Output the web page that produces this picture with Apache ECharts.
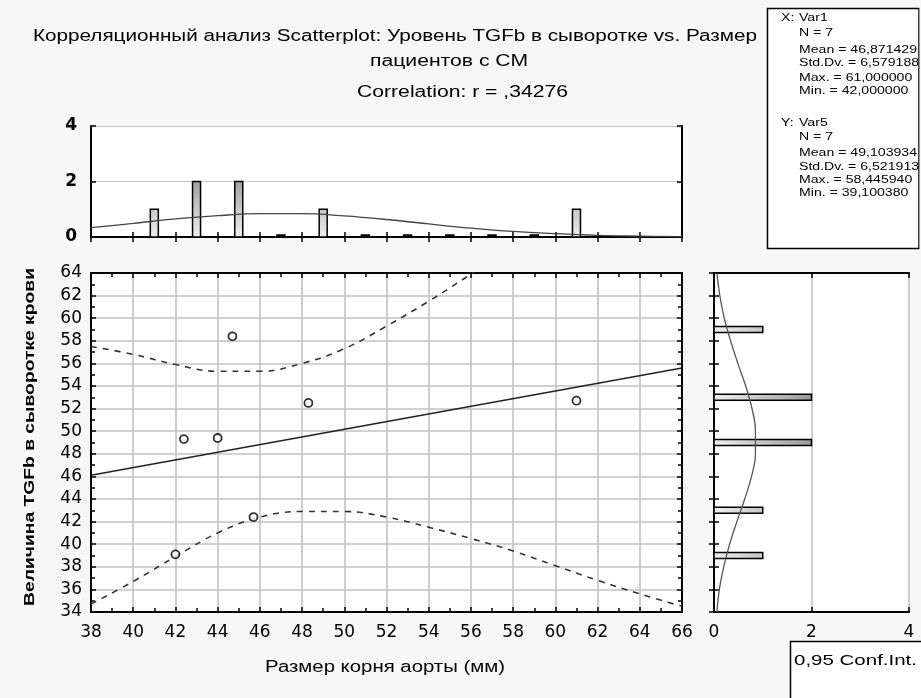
<!DOCTYPE html>
<html>
<head>
<meta charset="utf-8">
<script src="https://cdn.jsdelivr.net/npm/echarts@6/dist/echarts.min.js"></script>
<style>
html,body{margin:0;padding:0;background:#f7f7f7;}
#chart{width:921px;height:698px;}
</style>
</head>
<body>
<div id="chart"></div>
<script>
// ---------- data ----------
const aortaSize = [42.0, 42.4, 44.0, 44.7, 45.7, 48.3, 61.0];
const tgfbLevel = [39.1, 49.3, 49.4, 58.4, 42.4, 52.5, 52.7];

const fitX = [38, 66];
const fitY = [46.1, 55.6];

const bandX     = [38, 40, 42, 44, 46, 48, 50, 52, 54, 56, 58, 60, 62, 64, 66];
const bandUpper = [57.5, 56.8, 55.9, 55.3, 55.3, 56.0, 57.3, 59.3, 61.5, 63.9, 66.4];
const bandLower = [34.7, 36.7, 38.9, 41.0, 42.4, 42.9, 42.9, 42.4, 41.5, 40.5, 39.4, 38.1, 36.8, 35.6, 34.5];

const xHistBins   = [41, 43, 45, 47, 49, 51, 53, 55, 57, 59, 61];
const xHistCounts = [1, 2, 2, 0, 1, 0, 0, 0, 0, 0, 1];
const xCurveX = [38, 40, 42, 44, 46, 48, 50, 52, 54, 56, 58, 60, 62, 64, 66];
const xCurveV = [0.34, 0.49, 0.65, 0.77, 0.84, 0.84, 0.76, 0.63, 0.47, 0.32, 0.20, 0.12, 0.06, 0.03, 0.01];

const yHistBins   = [39, 43, 49, 53, 59];
const yHistCounts = [1, 1, 2, 2, 1];
const yCurveY = [34, 36, 38, 40, 42, 44, 46, 48, 50, 52, 54, 56, 58, 60, 62, 64];
const yCurveV = [0.06, 0.11, 0.20, 0.32, 0.47, 0.63, 0.77, 0.85, 0.85, 0.78, 0.65, 0.49, 0.34, 0.21, 0.12, 0.06];

const xTicks = {min: 38, max: 66, interval: 2};
const yTicks = {min: 34, max: 64, interval: 2};
const histTicks = {min: 0, max: 4, interval: 2};

const titleLine1 = 'Корреляционный анализ Scatterplot: Уровень TGFb в сыворотке vs. Размер';
const titleLine2 = 'пациентов с СМ';
const titleLine3 = 'Correlation: r = ,34276';
const xName = 'Размер корня аорты (мм)';
const yName = 'Величина TGFb в сыворотке крови';
const statsX = ['X:  Var1', 'N = 7', 'Mean = 46,871429', 'Std.Dv. = 6,579188', 'Max. = 61,000000', 'Min. = 42,000000'];
const statsY = ['Y:  Var5', 'N = 7', 'Mean = 49,103934', 'Std.Dv. = 6,521913', 'Max. = 58,445940', 'Min. = 39,100380'];
const confLabel = '0,95 Conf.Int.';

// ---------- helpers ----------
const mctx = document.createElement('canvas').getContext('2d');
const FAM = '"Liberation Sans", Arial, sans-serif';
function measure(t, size, weight) { mctx.font = (weight||'normal') + ' ' + size + 'px ' + FAM; return mctx.measureText(t).width; }
function fitText(t, x, y, size, target, opts) {
  opts = opts || {};
  const s = target / measure(t, size, opts.weight);
  return {
    type: 'text', x: x, y: y, scaleX: s, rotation: opts.rotation || 0, z: 50,
    style: { text: t, fontSize: size, fontFamily: FAM, fontWeight: opts.weight || 'normal', fill: '#000',
             align: opts.align || 'left', verticalAlign: 'middle' }
  };
}

const chart = echarts.init(document.getElementById('chart'));

const G = [
  {left: 91, top: 273, width: 591, height: 339},   // main
  {left: 91, top: 126, width: 591, height: 111},   // top histogram
  {left: 714, top: 273, width: 195, height: 339}   // right histogram
].map(g => Object.assign({show: true, backgroundColor: '#ffffff', borderWidth: 0, containLabel: false}, g));

const lineBlack = {show: true, lineStyle: {color: '#000', width: 2}};
const tickIn = {show: true, inside: true, length: 5, lineStyle: {color: '#000', width: 1.5}};
const minorIn = {show: true, splitNumber: 2, length: 4, lineStyle: {color: '#000', width: 1.5}};
const lab = {fontFamily: '"DejaVu Sans", sans-serif', fontSize: 17, color: '#000'};
const gridLine = {show: true, lineStyle: {color: '#c2c2c2', width: 1.6}};

function ax(base, extra) { return Object.assign({type: 'value', axisLine: lineBlack, axisTick: tickIn, splitLine: {show: false}, axisLabel: {show: false}}, base, extra); }

const xAxes = [
  ax(xTicks, {gridIndex: 0, position: 'bottom', axisLabel: Object.assign({show: true, margin: 12}, lab), minorTick: minorIn, splitLine: gridLine}),
  ax(xTicks, {gridIndex: 0, position: 'top', minorTick: minorIn}),
  ax(xTicks, {gridIndex: 1, position: 'bottom'}),
  ax(xTicks, {gridIndex: 1, position: 'top'}),
  ax(histTicks, {gridIndex: 2, position: 'bottom', axisLabel: Object.assign({show: true, margin: 12}, lab), splitLine: gridLine}),
  ax(histTicks, {gridIndex: 2, position: 'top'})
];
const yAxes = [
  ax(yTicks, {gridIndex: 0, position: 'left', axisLabel: Object.assign({show: true, margin: 9}, lab), minorTick: minorIn, splitLine: gridLine}),
  ax(yTicks, {gridIndex: 0, position: 'right', minorTick: minorIn}),
  ax(histTicks, {gridIndex: 1, position: 'left', axisLabel: Object.assign({show: true, margin: 14, fontWeight: 'bold'}, lab), splitLine: {show: true, lineStyle: {color: '#c8c8c8', width: 1.2}}}),
  ax(histTicks, {gridIndex: 1, position: 'right'}),
  ax(yTicks, {gridIndex: 2, position: 'left'}),
  ax(yTicks, {gridIndex: 2, position: 'right'})
];

const topGrad = new echarts.graphic.LinearGradient(0, 126, 0, 237, [
  {offset: 0, color: '#555'}, {offset: 1, color: '#eeeeee'}], true);
const rightGrad = new echarts.graphic.LinearGradient(714, 0, 909, 0, [
  {offset: 0, color: '#f0f0f0'}, {offset: 0.5, color: '#9a9a9a'}, {offset: 1, color: '#555'}], true);

const series = [
  {type: 'line', xAxisIndex: 0, yAxisIndex: 0, data: fitX.map((x, i) => [x, fitY[i]]), symbol: 'none',
   lineStyle: {color: '#222', width: 1.6}, z: 3, silent: true},
  {type: 'line', xAxisIndex: 0, yAxisIndex: 0, data: bandUpper.map((v, i) => [bandX[i], v]), symbol: 'none', smooth: 0.4,
   lineStyle: {color: '#333', width: 1.6, type: [6, 6]}, z: 3, silent: true},
  {type: 'line', xAxisIndex: 0, yAxisIndex: 0, data: bandLower.map((v, i) => [bandX[i], v]), symbol: 'none', smooth: 0.4,
   lineStyle: {color: '#333', width: 1.6, type: [6, 6]}, z: 3, silent: true},
  {type: 'scatter', xAxisIndex: 0, yAxisIndex: 0, data: aortaSize.map((x, i) => [x, tgfbLevel[i]]), symbol: 'circle', symbolSize: 8,
   itemStyle: {color: '#fff', borderColor: '#000', borderWidth: 1.8}, z: 5},
  {type: 'custom', xAxisIndex: 2, yAxisIndex: 2, data: xHistBins.map((b, i) => [b, xHistCounts[i]]), z: 3,
   renderItem: function (params, api) {
     const b = api.value(0), c = api.value(1);
     const p0 = api.coord([b, 0]), p1 = api.coord([b, c]);
     let h = p0[1] - p1[1]; const w = 8;
     if (h < 2) h = 2;
     return {type: 'rect', shape: {x: p0[0] - w / 2, y: p0[1] - h, width: w, height: h},
             style: {fill: c > 0 ? topGrad : '#222', stroke: '#000', lineWidth: 1.5}};
   }},
  {type: 'line', xAxisIndex: 2, yAxisIndex: 2, data: xCurveX.map((x, i) => [x, xCurveV[i]]), symbol: 'none', smooth: 0.4,
   lineStyle: {color: '#444', width: 1.3}, z: 4, silent: true},
  {type: 'custom', xAxisIndex: 4, yAxisIndex: 4, data: yHistBins.map((b, i) => [yHistCounts[i], b]), z: 3,
   renderItem: function (params, api) {
     const c = api.value(0), b = api.value(1);
     const p0 = api.coord([0, b]), p1 = api.coord([c, b]);
     const t = 6;
     return {type: 'rect', shape: {x: p0[0], y: p0[1] - t / 2, width: p1[0] - p0[0], height: t},
             style: {fill: rightGrad, stroke: '#000', lineWidth: 1.5}};
   }},
  {type: 'line', xAxisIndex: 4, yAxisIndex: 4, data: yCurveY.map((y, i) => [yCurveV[i], y]), symbol: 'none', smooth: 0.4,
   lineStyle: {color: '#555', width: 1.3}, z: 4, silent: true}
];

const graphics = [];
// title
graphics.push(fitText(titleLine1, 33, 37, 16, 724));
graphics.push(fitText(titleLine2, 370, 62, 16, 158));
graphics.push(fitText(titleLine3, 357, 93, 16, 211));
// axis names
graphics.push(fitText(xName, 265, 668, 16, 240));
graphics.push(fitText(yName, 30, 437, 15, 338, {weight: 'bold', align: 'center', rotation: Math.PI / 2}));
// stats box
graphics.push({type: 'rect', z: 40, shape: {x: 767.5, y: 8.5, width: 151.5, height: 240},
  style: {fill: '#fff', stroke: '#000', lineWidth: 1.5}});
const SF = 11.5;
const sScale = 118 / measure('Mean = 46,871429', SF);
const statY1 = [18, 33, 50, 63, 78, 91];
const statY2 = [123, 137, 153, 167, 180, 193];
function statText(t, x, y) {
  return {type: 'text', z: 50, x: x, y: y, scaleX: sScale,
    style: {text: t, fontSize: SF, fontFamily: FAM, fill: '#000', align: 'left', verticalAlign: 'middle'}};
}
statsX.forEach((t, i) => {
  if (i === 0) { const p = t.split(/\s+/); graphics.push(statText(p[0], 781, statY1[0])); graphics.push(statText(p[1], 799, statY1[0])); }
  else graphics.push(statText(t, 799, statY1[i]));
});
statsY.forEach((t, i) => {
  if (i === 0) { const p = t.split(/\s+/); graphics.push(statText(p[0], 781, statY2[0])); graphics.push(statText(p[1], 799, statY2[0])); }
  else graphics.push(statText(t, 799, statY2[i]));
});
graphics.push({type: 'rect', z: 60, shape: {x: 919.5, y: 0, width: 2, height: 260}, style: {fill: '#f7f7f7'}});
// conf box
graphics.push({type: 'rect', z: 40, shape: {x: 790.5, y: 641.5, width: 140, height: 70},
  style: {fill: '#fff', stroke: '#000', lineWidth: 1.5}});
graphics.push(fitText(confLabel, 794, 661, 14, 123));

chart.setOption({
  backgroundColor: '#f7f7f7',
  animation: false,
  grid: G,
  xAxis: xAxes,
  yAxis: yAxes,
  series: series,
  graphic: graphics
});
</script>
</body>
</html>
